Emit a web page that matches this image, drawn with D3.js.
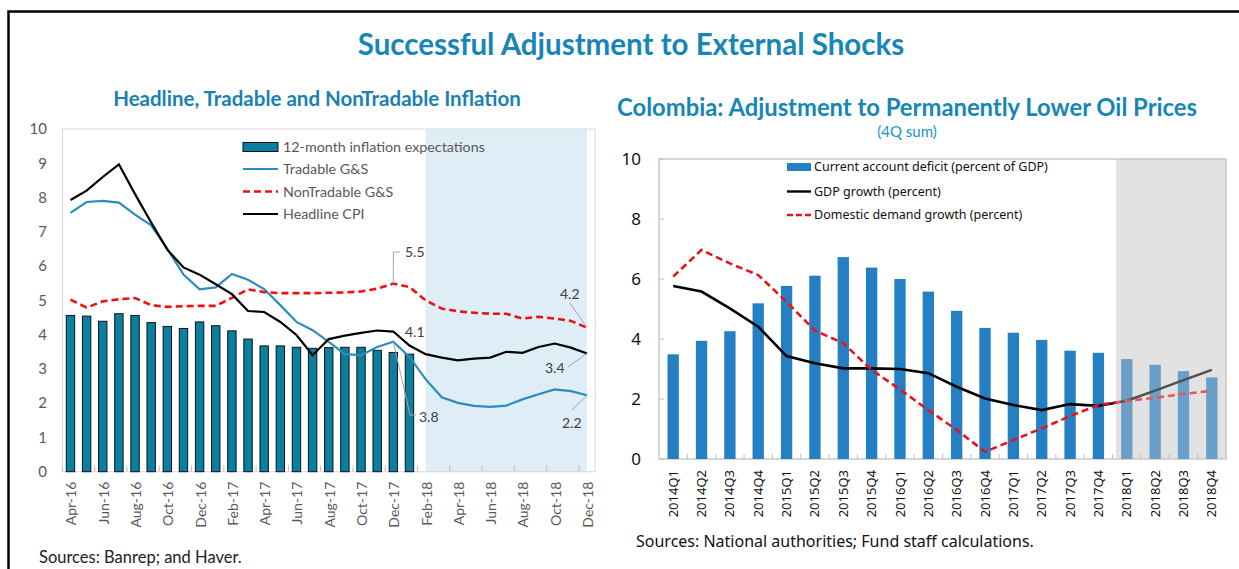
<!DOCTYPE html>
<html>
<head>
<meta charset="utf-8">
<script src="https://cdn.jsdelivr.net/npm/d3@7"></script>
<style>
  body { margin: 0; background: #fff; }
  svg { display: block; }
</style>
</head>
<body>
<svg width="1239" height="569"></svg>
<script>
// ---- left chart data (monthly, Apr-16 .. Dec-18) ----
var months = ["Apr-16","May-16","Jun-16","Jul-16","Aug-16","Sep-16","Oct-16","Nov-16","Dec-16",
  "Jan-17","Feb-17","Mar-17","Apr-17","May-17","Jun-17","Jul-17","Aug-17","Sep-17","Oct-17","Nov-17","Dec-17",
  "Jan-18","Feb-18","Mar-18","Apr-18","May-18","Jun-18","Jul-18","Aug-18","Sep-18","Oct-18","Nov-18","Dec-18"];

var expectations = [4.56,4.54,4.39,4.61,4.56,4.35,4.24,4.18,4.37,4.26,4.11,3.87,3.67,3.67,3.63,3.60,3.62,3.63,3.63,3.54,3.48,3.43];

var tradable = [7.55,7.87,7.90,7.85,7.50,7.19,6.50,5.75,5.32,5.38,5.77,5.60,5.33,4.86,4.37,4.13,3.79,3.43,3.40,3.64,3.79,
  3.35,2.70,2.17,2.01,1.92,1.89,1.93,2.11,2.26,2.40,2.35,2.23];

var nonTradable = [5.02,4.79,4.97,5.03,5.07,4.86,4.81,4.83,4.84,4.84,5.07,5.32,5.24,5.21,5.21,5.21,5.22,5.23,5.26,5.34,5.49,
  5.39,5.00,4.76,4.68,4.64,4.61,4.61,4.47,4.52,4.47,4.40,4.20];

var headline = [7.93,8.20,8.60,8.97,8.10,7.27,6.48,5.96,5.75,5.47,5.18,4.69,4.66,4.37,3.99,3.40,3.87,3.97,4.05,4.12,4.09,
  3.68,3.43,3.33,3.25,3.30,3.33,3.50,3.47,3.64,3.74,3.62,3.45];

var leftTicks = [0,1,2,3,4,5,6,7,8,9,10];

// ---- right chart data (quarterly) ----
var quarters = ["2014Q1","2014Q2","2014Q3","2014Q4","2015Q1","2015Q2","2015Q3","2015Q4",
  "2016Q1","2016Q2","2016Q3","2016Q4","2017Q1","2017Q2","2017Q3","2017Q4",
  "2018Q1","2018Q2","2018Q3","2018Q4"];

var caDeficit = [3.49,3.94,4.26,5.19,5.77,6.11,6.73,6.38,6.00,5.58,4.94,4.37,4.21,3.97,3.61,3.54,3.33,3.14,2.93,2.72];
var gdpGrowth = [5.77,5.58,5.02,4.41,3.43,3.19,3.02,3.02,3.00,2.86,2.41,2.02,1.80,1.63,1.83,1.77,1.94,2.28,2.63,2.97];
var ddGrowth  = [6.08,6.97,6.52,6.13,5.24,4.28,3.86,2.97,2.32,1.63,0.97,0.24,0.63,1.02,1.43,1.80,1.94,2.04,2.17,2.27];

var rightTicks = [0,2,4,6,8,10];
var firstForecast = "2018Q1";

var svg = d3.select("svg");

// outer frame
svg.append("rect")
    .attr("x", 8.5).attr("y", 11.5)
    .attr("width", 1260).attr("height", 620)
    .attr("fill", "none").attr("stroke", "#000").attr("stroke-width", 2.5);

svg.append("text")
    .attr("x", 631).attr("y", 55)
    .attr("text-anchor", "middle")
    .style("font-family", "Lato, sans-serif")
    .style("font-weight", "bold")
    .style("font-size", "29.5px")
    .attr("fill", "#1686b6")
    .text("Successful Adjustment to External Shocks");

// =================== LEFT CHART ===================
var L = { left: 62.4, right: 595.1, top: 129, bottom: 471.7 };
var gL = svg.append("g").style("font-family", "Lato, sans-serif");

gL.append("text")
    .attr("x", 317).attr("y", 106)
    .attr("text-anchor", "middle")
    .style("font-weight", "bold").style("font-size", "20.5px")
    .attr("fill", "#1a7fb3")
    .text("Headline, Tradable and NonTradable Inflation");

var xL = d3.scaleBand().domain(months).range([L.left, L.right]);
var yL = d3.scaleLinear().domain([0, 10]).range([L.bottom, L.top]);
var cx = function (m) { return xL(m) + xL.bandwidth() / 2; };

// forecast shading Feb-18 .. Dec-18
gL.append("rect")
    .attr("x", cx("Feb-18")).attr("y", L.top)
    .attr("width", cx("Dec-18") - cx("Feb-18"))
    .attr("height", L.bottom - L.top)
    .attr("fill", "#deedf6");

gL.append("rect")
    .attr("x", L.left).attr("y", L.top)
    .attr("width", L.right - L.left).attr("height", L.bottom - L.top)
    .attr("fill", "none").attr("stroke", "#d9d9d9");

gL.selectAll(".ytick")
    .data(leftTicks)
    .enter().append("text")
    .attr("x", 47).attr("y", d => yL(d)).attr("dy", "0.35em")
    .attr("text-anchor", "end")
    .style("font-size", "15px").attr("fill", "#595959")
    .text(d => d);

var labeled = months.filter((m, i) => i % 2 === 0);

gL.selectAll(".xtick")
    .data(labeled)
    .enter().append("line")
    .attr("x1", d => xL(d)).attr("x2", d => xL(d))
    .attr("y1", L.bottom).attr("y2", L.bottom - 6)
    .attr("stroke", "#bfbfbf");

gL.selectAll(".xlab")
    .data(labeled)
    .enter().append("text")
    .attr("transform", d => "translate(" + (cx(d) + 1) + "," + (L.bottom + 10) + ")rotate(-90)")
    .attr("dy", "0.35em")
    .attr("text-anchor", "end")
    .style("font-size", "14px").attr("fill", "#595959")
    .text(d => d);

var bw = xL.bandwidth() * 0.52;
gL.selectAll(".bar")
    .data(expectations)
    .enter().append("rect")
    .attr("x", (d, i) => cx(months[i]) - bw / 2)
    .attr("y", d => yL(d))
    .attr("width", bw)
    .attr("height", d => L.bottom - yL(d))
    .attr("fill", "#0a7fa0").attr("stroke", "#111").attr("stroke-width", 1);

var lineL = d3.line().x((d, i) => cx(months[i])).y(d => yL(d));

gL.append("path").datum(tradable).attr("d", lineL)
    .attr("fill", "none").attr("stroke", "#2b8cbe").attr("stroke-width", 2.2);
gL.append("path").datum(nonTradable).attr("d", lineL)
    .attr("fill", "none").attr("stroke", "#ee1111").attr("stroke-width", 2.6)
    .attr("stroke-dasharray", "7,4");
gL.append("path").datum(headline).attr("d", lineL)
    .attr("fill", "none").attr("stroke", "#000").attr("stroke-width", 2.2);

// data labels with leader lines
var ann = [
  { m: "Dec-17", v: nonTradable[20], text: "5.5", tx: 405, ty: 252, lead: [[393.4, 252], [400, 252]] },
  { m: "Dec-18", v: nonTradable[32], text: "4.2", tx: 560, ty: 294, lead: [[570, 303]] },
  { m: "Dec-17", v: headline[20], text: "4.1", tx: 405, ty: 332, lead: [] },
  { m: "Dec-17", v: tradable[20], text: "3.8", tx: 419, ty: 417, lead: [[410, 415], [416, 415]] },
  { m: "Dec-18", v: headline[32], text: "3.4", tx: 545, ty: 368, lead: [[568, 367]] },
  { m: "Dec-18", v: tradable[32], text: "2.2", tx: 562, ty: 423, lead: [[572, 410]] }
];
ann.forEach(function (a) {
  if (a.lead.length) {
    gL.append("path")
      .attr("d", d3.line()([[cx(a.m), yL(a.v)]].concat(a.lead)))
      .attr("fill", "none").attr("stroke", "#a6a6a6").attr("stroke-width", 1);
  }
  gL.append("text")
    .attr("x", a.tx).attr("y", a.ty).attr("dy", "0.35em")
    .style("font-size", "14px").attr("fill", "#404040")
    .text(a.text);
});

// legend
var legL = [
  { name: "12-month inflation expectations", type: "bar" },
  { name: "Tradable G&S", type: "line", color: "#2b8cbe" },
  { name: "NonTradable G&S", type: "dash", color: "#ee1111" },
  { name: "Headline CPI", type: "line", color: "#000" }
];
var legLy = [147, 169, 191.5, 214];
legL.forEach(function (d, i) {
  var gy = legLy[i];
  if (d.type === "bar") {
    gL.append("rect").attr("x", 243).attr("y", gy - 4.5).attr("width", 35).attr("height", 9)
      .attr("fill", "#0a7fa0").attr("stroke", "#111");
  } else {
    gL.append("line").attr("x1", 243).attr("x2", 278).attr("y1", gy).attr("y2", gy)
      .attr("stroke", d.color).attr("stroke-width", d.type === "dash" ? 2.6 : 2.2)
      .attr("stroke-dasharray", d.type === "dash" ? "7,4" : null);
  }
  gL.append("text").attr("x", 283).attr("y", gy).attr("dy", "0.35em")
    .style("font-size", "14.3px").attr("fill", "#595959").text(d.name);
});

gL.append("text")
    .attr("x", 39).attr("y", 563)
    .style("font-size", "16.5px").attr("fill", "#222")
    .text("Sources: Banrep; and Haver.");

// =================== RIGHT CHART ===================
var R = { left: 659, right: 1226, top: 159, bottom: 459 };
var gR = svg.append("g").style("font-family", "'Noto Sans', sans-serif");

gR.append("text")
    .attr("x", 907).attr("y", 116)
    .attr("text-anchor", "middle")
    .style("font-family", "Lato, sans-serif")
    .style("font-weight", "bold").style("font-size", "23.8px")
    .attr("fill", "#1686b6")
    .text("Colombia: Adjustment to Permanently Lower Oil Prices");

gR.append("text")
    .attr("x", 907).attr("y", 137)
    .attr("text-anchor", "middle")
    .style("font-family", "Lato, sans-serif")
    .style("font-size", "15px")
    .attr("fill", "#2391c6")
    .text("(4Q sum)");

var xR = d3.scaleBand().domain(quarters).range([R.left, R.right]);
var yR = d3.scaleLinear().domain([0, 10]).range([R.bottom, R.top]);
var qx = function (q) { return xR(q) + xR.bandwidth() / 2; };
var shadeX = xR(firstForecast) + xR.step() * 0.12;

gR.append("rect")
    .attr("x", shadeX).attr("y", R.top)
    .attr("width", R.right - shadeX).attr("height", R.bottom - R.top)
    .attr("fill", "#e2e2e2");

gR.append("rect")
    .attr("x", R.left).attr("y", R.top)
    .attr("width", R.right - R.left).attr("height", R.bottom - R.top)
    .attr("fill", "none").attr("stroke", "#c8c8c8").attr("stroke-width", 1.5);

gR.selectAll(".ytick")
    .data(rightTicks)
    .enter().append("line")
    .attr("x1", R.left).attr("x2", R.left + 5)
    .attr("y1", d => yR(d)).attr("y2", d => yR(d))
    .attr("stroke", "#bfbfbf");

gR.selectAll(".ylab")
    .data(rightTicks)
    .enter().append("text")
    .attr("x", 641).attr("y", d => yR(d)).attr("dy", "0.35em")
    .attr("text-anchor", "end")
    .style("font-size", "17px").attr("fill", "#111")
    .text(d => d);

gR.selectAll(".xtick")
    .data(quarters.slice(1))
    .enter().append("line")
    .attr("x1", d => xR(d)).attr("x2", d => xR(d))
    .attr("y1", R.bottom).attr("y2", R.bottom - 5)
    .attr("stroke", "#bfbfbf");

gR.selectAll(".xlab")
    .data(quarters)
    .enter().append("text")
    .attr("transform", d => "translate(" + qx(d) + "," + (R.bottom + 11) + ")rotate(-90)")
    .attr("dy", "0.35em")
    .attr("text-anchor", "end")
    .style("font-size", "13px").attr("fill", "#111")
    .text(d => d);

// clip paths: actual vs forecast part
var defs = svg.append("defs");
defs.append("clipPath").attr("id", "histClip")
    .append("rect").attr("x", 0).attr("y", 0).attr("width", shadeX).attr("height", 569);
defs.append("clipPath").attr("id", "fcClip")
    .append("rect").attr("x", shadeX).attr("y", 0).attr("width", 1239 - shadeX).attr("height", 569);

var bwR = xR.bandwidth() * 0.4;
gR.selectAll(".bar")
    .data(caDeficit)
    .enter().append("rect")
    .attr("x", (d, i) => qx(quarters[i]) - bwR / 2)
    .attr("y", d => yR(d))
    .attr("width", bwR)
    .attr("height", d => R.bottom - yR(d))
    .attr("fill", (d, i) => quarters.indexOf(firstForecast) <= i ? "#6a9fca" : "#2480c2");

var lineR = d3.line().x((d, i) => qx(quarters[i])).y(d => yR(d));

var series = [
  { data: gdpGrowth, hist: "#000", fc: "#505050", dash: null },
  { data: ddGrowth, hist: "#e8141c", fc: "#e05a5e", dash: "7,4" }
];
series.forEach(function (s) {
  gR.append("path").datum(s.data).attr("d", lineR)
    .attr("clip-path", "url(#histClip)")
    .attr("fill", "none").attr("stroke", s.hist).attr("stroke-width", 2.6)
    .attr("stroke-dasharray", s.dash);
  gR.append("path").datum(s.data).attr("d", lineR)
    .attr("clip-path", "url(#fcClip)")
    .attr("fill", "none").attr("stroke", s.fc).attr("stroke-width", 2.6)
    .attr("stroke-dasharray", s.dash);
});

var legR = [
  { name: "Current account deficit (percent of GDP)", type: "bar" },
  { name: "GDP growth (percent)", type: "line", color: "#000" },
  { name: "Domestic demand growth (percent)", type: "dash", color: "#e8141c" }
];
var legRy = [167, 191.5, 215];
legR.forEach(function (d, i) {
  var gy = legRy[i];
  if (d.type === "bar") {
    gR.append("rect").attr("x", 787).attr("y", gy - 4).attr("width", 24).attr("height", 8)
      .attr("fill", "#2480c2");
  } else {
    gR.append("line").attr("x1", 787).attr("x2", 811).attr("y1", gy).attr("y2", gy)
      .attr("stroke", d.color).attr("stroke-width", 2.4)
      .attr("stroke-dasharray", d.type === "dash" ? "6,3" : null);
  }
  gR.append("text").attr("x", 814).attr("y", gy).attr("dy", "0.35em")
    .style("font-size", "12.5px").attr("fill", "#111").text(d.name);
});

gR.append("text")
    .attr("x", 636).attr("y", 547)
    .style("font-size", "16px").attr("fill", "#111")
    .text("Sources: National authorities; Fund staff calculations.");
</script>
</body>
</html>
